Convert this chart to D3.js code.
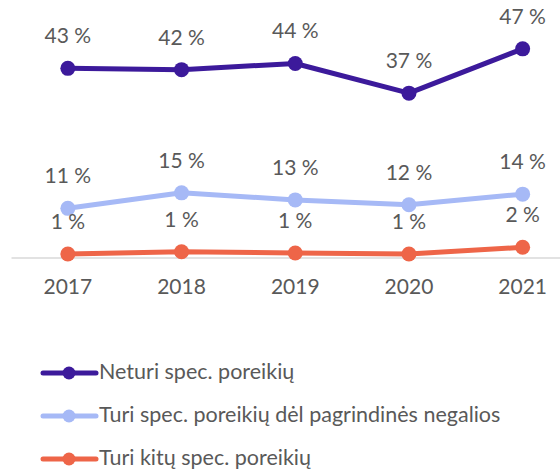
<!DOCTYPE html>
<html>
<head>
<meta charset="utf-8">
<script src="https://cdn.jsdelivr.net/npm/d3@7"></script>
<style>
  body { margin: 0; background: #fff; }
  text { font-family: Lato, "Open Sans", sans-serif; fill: #595959; }
</style>
</head>
<body>
<script>
const years = ["2017", "2018", "2019", "2020", "2021"];
const seriesNames = [
    "Neturi spec. poreikių",
    "Turi spec. poreikių dėl pagrindinės negalios",
    "Turi kitų spec. poreikių"
];
const neturi = [42.7, 42.4, 43.8, 37.1, 47.1];
const turiNegalios = [11.1, 14.6, 13.0, 11.9, 14.3];
const turiKitu = [0.8, 1.3, 1.0, 0.8, 2.3];
const colors = ["#3c1a9b", "#a6b9f6", "#ee6548"];

const allSeries = [neturi, turiNegalios, turiKitu];

const width = 560, height = 470;

const svg = d3.select("body").append("svg")
    .attr("width", width)
    .attr("height", height);

// scales
const x = d3.scaleBand()
    .domain(years)
    .range([11, 579.5])
    .padding(0);

const y = d3.scaleLinear()
    .domain([0, 50])
    .range([257.5, 36]);

const cx = function(d) { return x(d) + x.bandwidth() / 2; };

// axis
const xAxis = svg.append("g")
    .attr("transform", "translate(0," + y(0) + ")")
    .call(d3.axisBottom(x).tickSize(0).tickPadding(22));
xAxis.select(".domain").attr("stroke", "#d9d9d9").attr("stroke-width", 1.5);
xAxis.selectAll("text")
    .attr("font-size", "21px")
    .style("font-family", "Lato, sans-serif")
    .attr("fill", "#595959");

const line = d3.line()
    .x(function(d, i) { return cx(years[i]); })
    .y(function(d) { return y(d); });

// lines, markers, labels
allSeries.forEach(function(values, s) {
    svg.append("path")
        .datum(values)
        .attr("d", line)
        .attr("fill", "none")
        .attr("stroke", colors[s])
        .attr("stroke-width", 5)
        .attr("stroke-linejoin", "round");

    svg.selectAll(".dot-" + s)
        .data(values)
        .enter().append("circle")
        .attr("class", "dot-" + s)
        .attr("cx", function(d, i) { return cx(years[i]); })
        .attr("cy", function(d) { return y(d); })
        .attr("r", 7.5)
        .attr("fill", colors[s]);

    svg.selectAll(".label-" + s)
        .data(values)
        .enter().append("text")
        .attr("class", "label-" + s)
        .attr("x", function(d, i) { return cx(years[i]); })
        .attr("y", function(d) { return y(d) - 25; })
        .attr("text-anchor", "middle")
        .attr("font-size", "21px")
        .text(function(d) { return Math.round(d) + " %"; });
});

// legend
const legend = svg.append("g")
    .attr("transform", "translate(43,373)");

const legendRows = legend.selectAll("g")
    .data(seriesNames)
    .enter().append("g")
    .attr("transform", function(d, i) { return "translate(0," + (i * 43) + ")"; });

legendRows.append("line")
    .attr("x1", 0).attr("x2", 53)
    .attr("y1", 0).attr("y2", 0)
    .attr("stroke", function(d, i) { return colors[i]; })
    .attr("stroke-width", 5)
    .attr("stroke-linecap", "round");

legendRows.append("circle")
    .attr("cx", 26)
    .attr("cy", 0)
    .attr("r", 6.5)
    .attr("fill", function(d, i) { return colors[i]; });

legendRows.append("text")
    .attr("x", 56)
    .attr("y", 6)
    .attr("font-size", "21.5px")
    .text(function(d) { return d; });
</script>
</body>
</html>
